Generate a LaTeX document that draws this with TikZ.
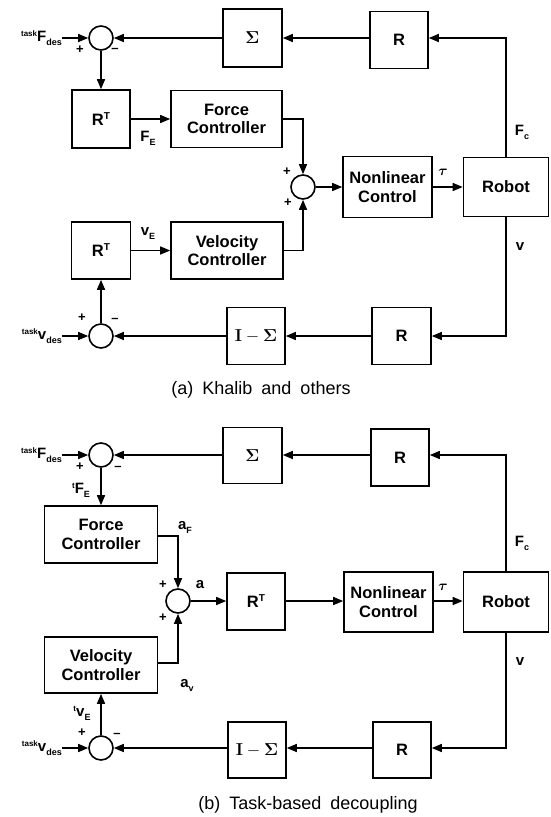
\documentclass[tikz,border=0pt]{standalone}
\usepackage{amsmath}
\usepackage[no-math]{fontspec}
\setmainfont{Liberation Sans}
\usetikzlibrary{arrows.meta,calc}

\newcommand{\supx}[1]{\raisebox{5pt}{\fontsize{8}{8}\selectfont #1}}
\newcommand{\subx}[1]{\raisebox{-4pt}{\fontsize{9}{9}\selectfont #1}}
\newcommand{\trn}{\raisebox{6pt}{\fontsize{10}{10}\selectfont T}}
\newcommand{\captfont}{\fontsize{18}{20}\selectfont\spaceskip 9pt\relax}

\tikzset{
    blk/.style={draw, line width=1.6pt, font=\fontsize{16.5}{18.5}\selectfont\bfseries, align=center, inner sep=1pt},
    sumpt/.style={circle, draw, line width=1.6pt, minimum size=24pt, inner sep=0pt},
    sig/.style={-{Triangle[length=10pt,width=8pt]}, line width=1.5pt},
    lbl/.style={font=\fontsize{15}{17}\selectfont\bfseries, inner sep=0pt},
    sgn/.style={font=\fontsize{13}{15}\selectfont\bfseries, inner sep=0pt},
    capt/.style={font=\captfont, inner sep=0pt}
}

\begin{document}
\begin{tikzpicture}[x=1pt,y=-1pt]
    \useasboundingbox (0,0) rectangle (550,817);

    % (a) Khalib and others
    \coordinate (inFa) at (62,38);
    \coordinate (inVa) at (62,336);
    \node[sumpt] (sumFa) at (101,38) {};
    \node[blk, minimum width=59pt, minimum height=58pt] (sigA) at (252.5,38) {$\mathbf{\Sigma}$};
    \node[blk, minimum width=58pt, minimum height=57pt] (rA) at (399,40) {R};
    \node[blk, minimum width=58pt, minimum height=58pt] (rtFa) at (101,119) {R\trn};
    \node[blk, minimum width=111pt, minimum height=57pt] (fcA) at (226.5,119) {Force\\Controller};
    \node[sumpt] (sumMa) at (303,187) {};
    \node[blk, minimum width=89pt, minimum height=61pt] (ncA) at (387.5,187) {Nonlinear\\Control};
    \node[blk, minimum width=85pt, minimum height=59pt] (robA) at (506,187) {Robot};
    \node[blk, minimum width=59pt, minimum height=57pt] (rtVa) at (101,250.5) {R\trn};
    \node[blk, minimum width=112pt, minimum height=57pt] (vcA) at (227,250.5) {Velocity\\Controller};
    \node[sumpt] (sumVa) at (101,336) {};
    \node[blk, minimum width=58pt, minimum height=57pt] (imsA) at (256,336) {$\mathbf{I}-\mathbf{\Sigma}$};
    \node[blk, minimum width=59pt, minimum height=57pt] (rA2) at (401.5,336) {R};

    \draw[sig] (inFa) -- (sumFa);
    \draw[sig] (robA.north) |- (rA.east |- sumFa);
    \draw[sig] (rA.west |- sumFa) -- (sigA);
    \draw[sig] (sigA) -- (sumFa);
    \draw[sig] (sumFa) -- (rtFa);
    \draw[sig] (rtFa) -- (fcA);
    \draw[sig] (fcA) -| (sumMa);
    \draw[sig] (vcA) -| (sumMa);
    \draw[sig] (sumMa) -- (ncA);
    \draw[sig] (ncA) -- (robA);
    \draw[sig] (robA.south) |- (rA2);
    \draw[sig] (rA2) -- (imsA);
    \draw[sig] (imsA) -- (sumVa);
    \draw[sig] (inVa) -- (sumVa);
    \draw[sig] (sumVa) -- (rtVa);
    \draw[sig] (rtVa) -- (vcA);

    \node[lbl, anchor=east] at (inFa) {\supx{task}F\subx{des}};
    \node[lbl, anchor=east] at (inVa) {\supx{task}v\subx{des}};
    \node[sgn] at (80,50) {+};
    \node[sgn] at (115,50) {–};
    \node[lbl] at (148,138) {F\subx{E}};
    \node[lbl] at (148,234) {v\subx{E}};
    \node[sgn] at (287,172) {+};
    \node[sgn] at (288,203) {+};
    \node[lbl] at (443,172) {$\boldsymbol{\tau}$};
    \node[lbl] at (522,132) {F\subx{c}};
    \node[lbl] at (520,247) {v};
    \node[sgn] at (82,318) {+};
    \node[sgn] at (115,320) {–};
    \node[capt] (captA) at (261,390) {(a) Khalib and others};

    % (b) Task-based decoupling
    \coordinate (inFb) at (62,455);
    \coordinate (inVb) at (62,748);
    \node[sumpt] (sumFb) at (101,455) {};
    \node[blk, minimum width=59pt, minimum height=56pt] (sigB) at (252.5,455.5) {$\mathbf{\Sigma}$};
    \node[blk, minimum width=58pt, minimum height=57pt] (rB) at (400,457.5) {R};
    \node[blk, minimum width=113pt, minimum height=57pt] (fcB) at (101,534.5) {Force\\Controller};
    \node[sumpt] (sumMb) at (178,601) {};
    \node[blk, minimum width=58pt, minimum height=57pt] (rtB) at (256,601.5) {R\trn};
    \node[blk, minimum width=89pt, minimum height=60pt] (ncB) at (388.5,602) {Nonlinear\\Control};
    \node[blk, minimum width=85pt, minimum height=60pt] (robB) at (506,602) {Robot};
    \node[blk, minimum width=113pt, minimum height=56pt] (vcB) at (101,665) {Velocity\\Controller};
    \node[sumpt] (sumVb) at (101,748) {};
    \node[blk, minimum width=58pt, minimum height=56pt] (imsB) at (257,750) {$\mathbf{I}-\mathbf{\Sigma}$};
    \node[blk, minimum width=58pt, minimum height=56pt] (rB2) at (402,750) {R};

    \draw[sig] (inFb) -- (sumFb);
    \draw[sig] (robB.north) |- (rB.east |- sumFb);
    \draw[sig] (rB.west |- sumFb) -- (sigB.east |- sumFb);
    \draw[sig] (sigB.west |- sumFb) -- (sumFb);
    \draw[sig] (sumFb) -- (fcB);
    \draw[sig] (fcB.east |- 0,536) -| (sumMb);
    \draw[sig] (vcB.east |- 0,663) -| (sumMb);
    \draw[sig] (sumMb) -- (rtB.west |- sumMb);
    \draw[sig] (rtB.east |- sumMb) -- (ncB.west |- sumMb);
    \draw[sig] (ncB.east |- sumMb) -- (robB.west |- sumMb);
    \draw[sig] (robB.south) |- (rB2.east |- sumVb);
    \draw[sig] (rB2.west |- sumVb) -- (imsB.east |- sumVb);
    \draw[sig] (imsB.west |- sumVb) -- (sumVb);
    \draw[sig] (inVb) -- (sumVb);
    \draw[sig] (sumVb) -- (vcB);

    \node[lbl, anchor=east] at (inFb) {\supx{task}F\subx{des}};
    \node[lbl, anchor=east] at (inVb) {\supx{task}v\subx{des}};
    \node[sgn] at (80,467) {+};
    \node[sgn] at (118,468) {–};
    \node[lbl] at (81,490) {\supx{t}F\subx{E}};
    \node[lbl] at (185,527) {a\subx{F}};
    \node[sgn] at (163,585) {+};
    \node[lbl] at (200,585) {a};
    \node[sgn] at (163,618) {+};
    \node[lbl] at (187,685) {a\subx{v}};
    \node[lbl] at (443,587) {$\boldsymbol{\tau}$};
    \node[lbl] at (522,543) {F\subx{c}};
    \node[lbl] at (520,662) {v};
    \node[lbl] at (82,713) {\supx{t}v\subx{E}};
    \node[sgn] at (82,733) {+};
    \node[sgn] at (117,735) {–};
    \node[capt] (captB) at (308,805) {(b) Task-based decoupling};
\end{tikzpicture}
\end{document}
